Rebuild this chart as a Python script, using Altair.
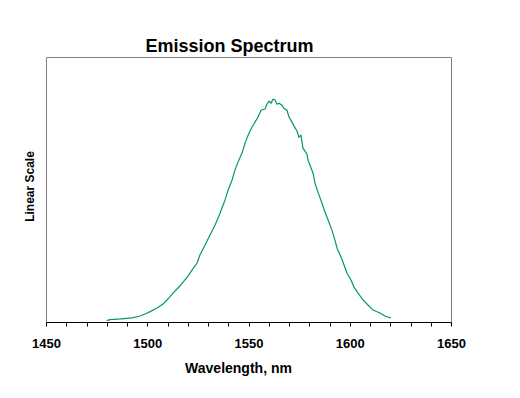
import altair as alt
import pandas as pd

wavelength = [1480.0, 1481.6, 1487.0, 1492.5, 1496.4, 1498.9, 1501.4, 1504.8, 1507.8, 1510.2,
              1512.7, 1515.2, 1517.7, 1520.1, 1522.1, 1524.6, 1526.0, 1528.5, 1531.0, 1533.5,
              1535.4, 1536.9, 1538.4, 1539.9, 1541.9, 1543.3, 1544.8, 1546.8, 1548.3, 1549.8,
              1551.7, 1553.2, 1554.7, 1556.2, 1558.1, 1559.1, 1560.1, 1561.1, 1562.1, 1563.1,
              1564.1, 1565.1, 1566.5, 1567.5, 1569.0, 1570.0, 1571.5, 1572.5, 1574.0, 1574.9,
              1575.9, 1576.9, 1578.9, 1579.4, 1580.9, 1581.9, 1582.8, 1584.3, 1586.3, 1587.8,
              1589.3, 1591.2, 1592.7, 1593.7, 1595.7, 1597.2, 1598.6, 1600.6, 1602.1, 1604.1,
              1606.5, 1609.0, 1611.5, 1614.9, 1617.4, 1620.4]
intensity = [0.006, 0.011, 0.014, 0.019, 0.027, 0.036, 0.047, 0.063, 0.081, 0.104,
             0.131, 0.154, 0.181, 0.208, 0.235, 0.267, 0.303, 0.348, 0.394, 0.439,
             0.480, 0.516, 0.552, 0.597, 0.643, 0.688, 0.724, 0.765, 0.810, 0.846,
             0.882, 0.905, 0.928, 0.959, 0.964, 0.986, 1.000, 0.991, 1.009, 1.005,
             0.986, 0.991, 0.982, 0.968, 0.959, 0.928, 0.905, 0.887, 0.864, 0.837,
             0.846, 0.787, 0.760, 0.733, 0.697, 0.674, 0.629, 0.588, 0.538, 0.498,
             0.462, 0.416, 0.371, 0.335, 0.294, 0.258, 0.222, 0.190, 0.158, 0.131,
             0.100, 0.077, 0.054, 0.041, 0.027, 0.018]
x_ticks = list(range(1450, 1651, 10))

df = pd.DataFrame({"wavelength": wavelength, "intensity": intensity})

FONT = "Liberation Sans"

chart = alt.Chart(df).mark_line(color="#00966E", strokeWidth=1.2, interpolate="linear").encode(
    x=alt.X("wavelength:Q",
            scale=alt.Scale(domain=[1450, 1650], nice=False, zero=False),
            axis=alt.Axis(title="Wavelength, nm", values=x_ticks, format="d",
                          labelExpr="datum.value % 50 == 0 ? datum.label : ''",
                          grid=False, domainColor="black", tickColor="black",
                          tickSize=4, labelFontSize=13, labelFontWeight="bold",
                          labelColor="black", labelPadding=11, labelFont=FONT,
                          labelOverlap=False, labelFlush=False,
                          titleFont=FONT, titleFontSize=14, titleFontWeight="bold",
                          titleColor="black", titleX=192, titleY=50,
                          titleBaseline="alphabetic", titleAnchor="start", titleAlign="center")),
    y=alt.Y("intensity:Q",
            scale=alt.Scale(domain=[0, 1.2], nice=False),
            axis=alt.Axis(title="Linear Scale", labels=False, ticks=False, grid=False,
                          domain=False, titleFont=FONT, titleFontSize=12,
                          titleFontWeight="bold", titleColor="black", titleAngle=270,
                          titleX=-13, titleY=129, titleBaseline="alphabetic",
                          titleAlign="center")),
).properties(
    width=405,
    height=265,
    background="white",
    padding={"left": 38, "top": 49, "right": 50, "bottom": 66},
    autosize=alt.AutoSizeParams(type="none"),
    title=alt.TitleParams("Emission Spectrum", font=FONT, fontSize=18, fontWeight="bold",
                          color="black", anchor="middle", dx=-19, offset=1),
).configure_view(
    stroke="#808080", strokeWidth=1
)

chart.save("out.html", embed_options={"renderer": "svg", "actions": False})
